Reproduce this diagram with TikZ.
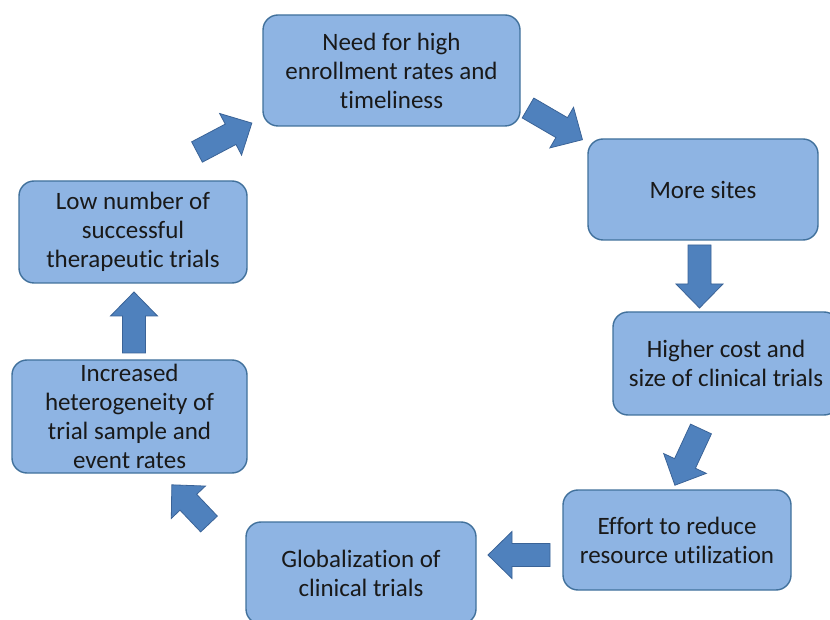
\documentclass[tikz,border=0pt]{standalone}
\usepackage{fontspec}
\setmainfont{Carlito}[Ligatures=CommonOff]
\definecolor{boxfill}{HTML}{8EB4E3}
\definecolor{boxline}{HTML}{41719C}
\definecolor{arrowfill}{HTML}{4F81BD}
\definecolor{arrowline}{HTML}{3A6397}
\tikzset{
	box/.style={draw=boxline, fill=boxfill, line width=1.4pt, rounded corners=15pt,
		align=center, inner sep=0pt, text=black!90,
		font=\fontsize{25}{29}\selectfont},
	% block arrow along the x axis, #1 = total length
	pics/blockarrow/.style={code={
		\path[draw=arrowline, fill=arrowfill, line width=0.8pt, line join=miter]
			(0,-11.5) -- ({#1-24},-11.5) -- ({#1-24},-23.5) -- (#1,0)
			-- ({#1-24},23.5) -- ({#1-24},11.5) -- (0,11.5) -- cycle;
	}}
}
\begin{document}
\begin{tikzpicture}[x=1pt,y=1pt]
				% fix the page size
				\useasboundingbox[fill=white] (0,0) rectangle (830,619);
				
				% the seven stages of the cycle
				\node[box, minimum width=257pt, minimum height=111pt] (need) at (391.5,548.5)
					{Need for high\\enrollment rates and\\timeliness};
				\node[box, minimum width=230pt, minimum height=101pt] (sites) at (703,429.5)
					{More sites};
				\node[box, minimum width=226pt, minimum height=103pt] (cost) at (726,255.5)
					{Higher cost and\\size of clinical trials};
				\node[box, minimum width=228pt, minimum height=100pt] (effort) at (677,79)
					{Effort to reduce\\resource utilization};
				\node[box, minimum width=230pt, minimum height=102pt] (global) at (361,46)
					{Globalization of\\clinical trials};
				\node[box, minimum width=235pt, minimum height=113pt] (hetero) at (129.5,202.5)
					{Increased\\heterogeneity of\\trial sample and\\event rates};
				\node[box, minimum width=228pt, minimum height=102pt] (low) at (133,387)
					{Low number of\\successful\\therapeutic trials};
				
				% block arrows between the stages (tail point, direction)
				\pic[rotate=27.8] at (197,467) {blockarrow=62};
				\pic[rotate=-30.2] at (528,511) {blockarrow=63};
				\pic[rotate=-90] at (699.5,374) {blockarrow=63};
				\pic[rotate=245.1] at (701,190) {blockarrow=62};
				\pic[rotate=180] at (550,64) {blockarrow=62};
				\pic[rotate=133.5] at (209,95) {blockarrow=54};
				\pic[rotate=90] at (134,266) {blockarrow=61};
				
\end{tikzpicture}
\end{document}
